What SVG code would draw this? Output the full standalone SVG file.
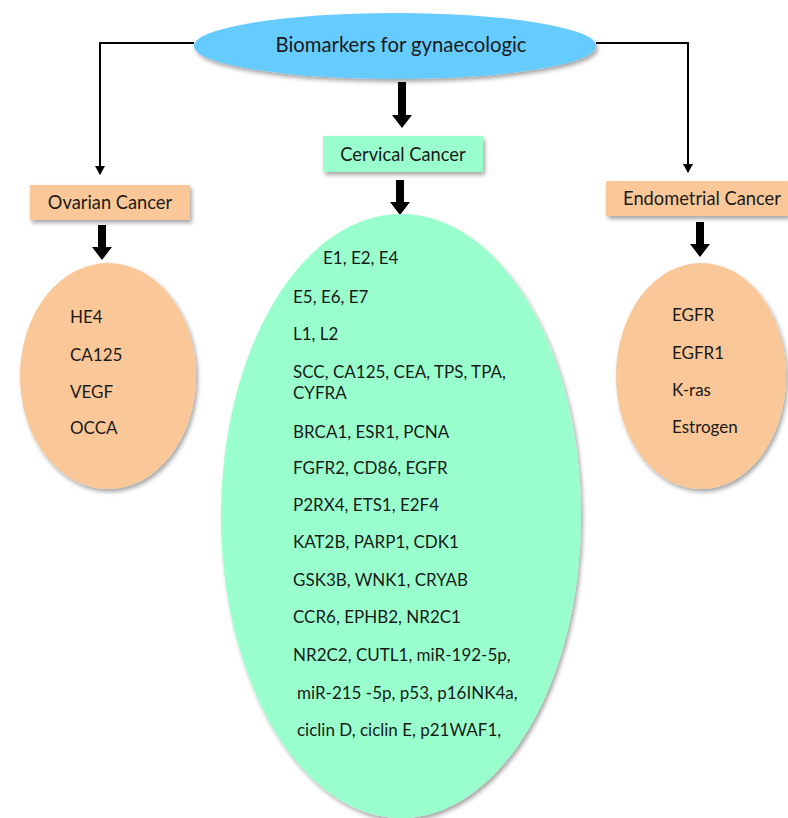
<svg xmlns="http://www.w3.org/2000/svg" width="788" height="818" viewBox="0 0 788 818">
<style>
  text { font-family: Lato, "Liberation Sans", sans-serif; fill: #1a1a1a; }
  .lbl { font-size: 18.3px; }
  .title { font-size: 20.3px; }
  .item { font-size: 17px; }
  .peach { fill: #FAC898; }
  .mint { fill: #99FFCC; }
  .thin { fill: none; stroke: #000; stroke-width: 2; }
  .thick { fill: #000; }
</style>
<defs>
  <filter id="sh" x="-10%" y="-10%" width="130%" height="130%">
    <feDropShadow dx="2" dy="3" stdDeviation="2" flood-color="#000" flood-opacity="0.35"/>
  </filter>
  <marker id="ah" markerWidth="10" markerHeight="10" refX="8" refY="5" orient="auto" markerUnits="userSpaceOnUse">
    <path d="M0,0 L9,5 L0,10 Z" fill="#000"/>
  </marker>
</defs>
<g id="connectors">
  <path class="thin" d="M194,43 H100 V174" marker-end="url(#ah)"/>
  <path class="thin" d="M596,43 H688 V172" marker-end="url(#ah)"/>
  <path class="thick" d="M398,82 H406 V115 H412 L402,128 L392,115 H398 Z"/>
  <path class="thick" d="M396,180 H404 V202 H410 L400,215 L390,202 H396 Z"/>
  <path class="thick" d="M98,225 H106 V247 H112 L102,260 L92,247 H98 Z"/>
  <path class="thick" d="M696,222 H704 V244 H710 L700,257 L690,244 H696 Z"/>
</g>
<g id="root">
  <ellipse cx="395" cy="46" rx="201" ry="33" fill="#66CCFF" filter="url(#sh)"/>
  <text class="title" x="401" y="52" text-anchor="middle">Biomarkers for gynaecologic</text>
</g>
<g id="cervical">
  <rect x="323" y="136" width="160" height="36" class="mint" filter="url(#sh)"/>
  <text class="lbl" x="403" y="161" text-anchor="middle">Cervical Cancer</text>
</g>
<g id="ovarian">
  <rect x="30" y="185" width="160" height="35" class="peach" filter="url(#sh)"/>
  <text class="lbl" x="110" y="209" text-anchor="middle">Ovarian Cancer</text>
</g>
<g id="endometrial">
  <rect x="606" y="181" width="182" height="35" class="peach" filter="url(#sh)"/>
  <text class="lbl" x="702" y="205" text-anchor="middle">Endometrial Cancer</text>
</g>
<g id="ovarian-markers">
  <ellipse cx="108" cy="376" rx="88" ry="113" class="peach" filter="url(#sh)"/>
  <text class="item" x="70" y="323">HE4</text>
  <text class="item" x="70" y="361">CA125</text>
  <text class="item" x="70" y="398">VEGF</text>
  <text class="item" x="70" y="434">OCCA</text>
</g>
<g id="endometrial-markers">
  <ellipse cx="701" cy="376" rx="85" ry="113" class="peach" filter="url(#sh)"/>
  <text class="item" x="672" y="321">EGFR</text>
  <text class="item" x="672" y="359">EGFR1</text>
  <text class="item" x="672" y="396">K-ras</text>
  <text class="item" x="672" y="433">Estrogen</text>
</g>
<g id="cervical-markers">
  <ellipse cx="401" cy="516" rx="180" ry="302" class="mint" filter="url(#sh)"/>
  <text class="item" x="323" y="264">E1, E2, E4</text>
  <text class="item" x="293" y="303">E5, E6, E7</text>
  <text class="item" x="293" y="340">L1, L2</text>
  <text class="item" x="293" y="378">SCC, CA125, CEA, TPS, TPA,</text>
  <text class="item" x="293" y="399">CYFRA</text>
  <text class="item" x="293" y="438">BRCA1, ESR1, PCNA</text>
  <text class="item" x="293" y="474">FGFR2, CD86, EGFR</text>
  <text class="item" x="293" y="511">P2RX4, ETS1, E2F4</text>
  <text class="item" x="293" y="548">KAT2B, PARP1, CDK1</text>
  <text class="item" x="293" y="586">GSK3B, WNK1, CRYAB</text>
  <text class="item" x="293" y="623">CCR6, EPHB2, NR2C1</text>
  <text class="item" x="293" y="661">NR2C2, CUTL1, miR-192-5p,</text>
  <text class="item" x="297" y="699">miR-215 -5p, p53, p16INK4a,</text>
  <text class="item" x="297" y="736">ciclin D, ciclin E, p21WAF1,</text>
</g>
</svg>
